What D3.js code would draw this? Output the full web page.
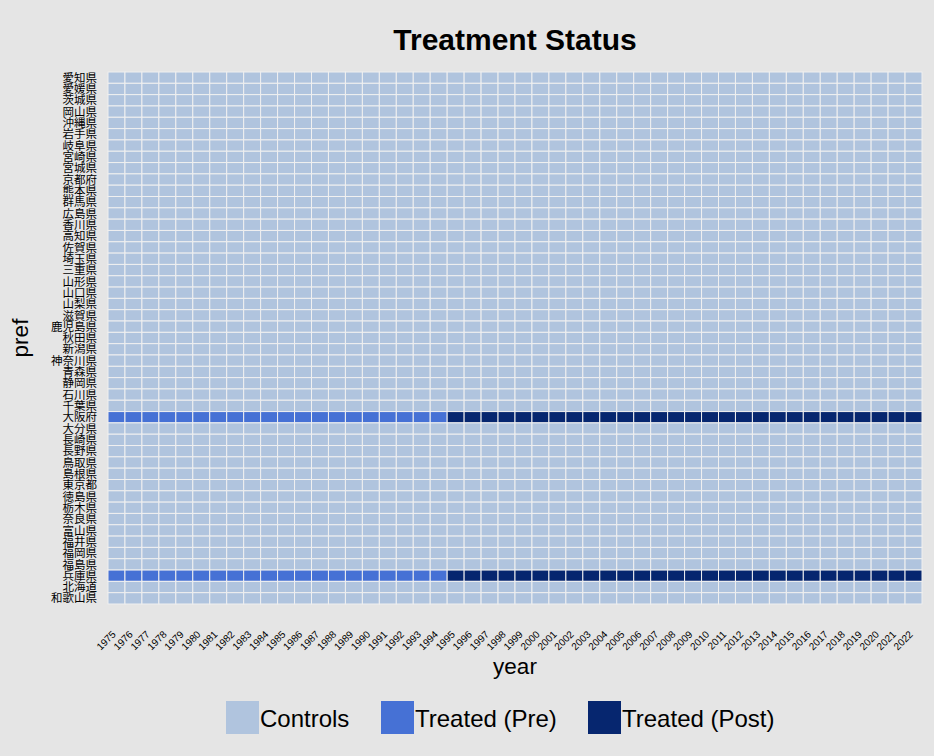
<!DOCTYPE html>
<html><head><meta charset="utf-8">
<script src="https://cdn.jsdelivr.net/npm/d3@7"></script>
<style>
body{margin:0;background:#E5E5E5;}
svg{display:block;}
</style></head>
<body>
<svg id="chart" width="934" height="756"></svg>
<script>
// prefectures listed top to bottom
const prefs = ["愛知県","愛媛県","茨城県","岡山県","沖縄県","岩手県","岐阜県","宮崎県","宮城県","京都府","熊本県","群馬県","広島県","香川県","高知県","佐賀県","埼玉県","三重県","山形県","山口県","山梨県","滋賀県","鹿児島県","秋田県","新潟県","神奈川県","青森県","静岡県","石川県","千葉県","大阪府","大分県","長崎県","長野県","鳥取県","島根県","東京都","徳島県","栃木県","奈良県","富山県","福井県","福岡県","福島県","兵庫県","北海道","和歌山県"];
const years = [1975,1976,1977,1978,1979,1980,1981,1982,1983,1984,1985,1986,1987,1988,1989,1990,1991,1992,1993,1994,1995,1996,1997,1998,1999,2000,2001,2002,2003,2004,2005,2006,2007,2008,2009,2010,2011,2012,2013,2014,2015,2016,2017,2018,2019,2020,2021,2022];
const treatedPrefs = ["大阪府","兵庫県"];
const treatStartYear = [1995, 1995];
const statusLabels = ["Controls","Treated (Pre)","Treated (Post)"];
const statusColors = ["#B0C4DE","#4671D5","#06266F"];

const cells = [];
prefs.forEach(p => years.forEach(y => {
  const ti = treatedPrefs.indexOf(p);
  let s = 0;
  if (ti >= 0) s = y >= treatStartYear[ti] ? 2 : 1;
  cells.push({pref: p, year: y, status: s});
}));

const svg = d3.select("#chart");
const W = 934, H = 756;
svg.append("rect").attr("width", W).attr("height", H).attr("fill", "#E5E5E5");

const m = {left:108, right:922, top:72, bottom:604};
const x = d3.scaleBand().domain(years).range([m.left, m.right]).padding(0);
const y = d3.scaleBand().domain(prefs).range([m.top, m.bottom]).padding(0);
const color = d3.scaleOrdinal().domain([0,1,2]).range(statusColors);

svg.append("g").selectAll("rect").data(cells).join("rect")
  .attr("x", d => x(d.year)).attr("y", d => y(d.pref))
  .attr("width", x.bandwidth()).attr("height", y.bandwidth())
  .attr("fill", d => color(d.status))
  .attr("stroke", "#F0F0F0").attr("stroke-width", 1);

// y axis
const yAxis = svg.append("g").attr("transform", `translate(${m.left},0)`)
  .call(d3.axisLeft(y).tickSize(0).tickPadding(11));
yAxis.select(".domain").remove();
yAxis.attr("font-family", "Noto Sans CJK JP");
yAxis.selectAll("text").style("font-family", "'Noto Sans CJK JP', sans-serif")
  .style("font-size", "11.5px").attr("fill", "#000").attr("dy", "0.36em");

// x axis
const xAxis = svg.append("g").attr("transform", `translate(0,${m.bottom})`)
  .call(d3.axisBottom(x).tickSize(0));
xAxis.select(".domain").remove();
xAxis.selectAll("text")
  .style("font-family", "'Liberation Sans', Arial, sans-serif").style("font-size", "10px").attr("fill", "#000")
  .attr("text-anchor", "end").attr("dy", null).attr("y", 0)
  .attr("transform", "translate(0,31) rotate(-45)");

// title
svg.append("text").attr("x", (m.left + m.right)/2).attr("y", 50)
  .attr("text-anchor", "middle").attr("font-family", "'Liberation Sans', Arial, sans-serif")
  .attr("font-weight", "bold").attr("font-size", 30).text("Treatment Status");

svg.append("text").attr("x", (m.left + m.right)/2).attr("y", 674)
  .attr("text-anchor", "middle").attr("font-family", "'Liberation Sans', Arial, sans-serif")
  .attr("font-size", 22.5).text("year");

svg.append("text").attr("transform", `translate(28,${(m.top+m.bottom)/2}) rotate(-90)`)
  .attr("text-anchor", "middle").attr("font-family", "'Liberation Sans', Arial, sans-serif")
  .attr("font-size", 22.5).text("pref");

// legend
const legX = [226, 381, 588];
const lg = svg.append("g").selectAll("g").data(statusLabels).join("g")
  .attr("transform", (d,i) => `translate(${legX[i]},701)`);
lg.append("rect").attr("width", 33).attr("height", 33).attr("fill", (d,i) => statusColors[i]);
lg.append("text").attr("x", 34).attr("y", 26).attr("font-family", "'Liberation Sans', Arial, sans-serif")
  .attr("font-size", 24).text(d => d);
</script>
</body></html>
